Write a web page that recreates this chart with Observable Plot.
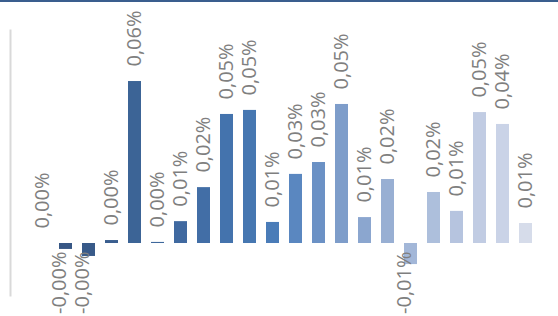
<!DOCTYPE html>
<html>
<head>
<meta charset="utf-8">
<script src="https://cdn.jsdelivr.net/npm/d3@7"></script>
<script src="https://cdn.jsdelivr.net/npm/@observablehq/plot@0.6"></script>
<style>
  html, body { margin: 0; padding: 0; background: #ffffff; }
  #wrap { position: relative; width: 558px; height: 316px; overflow: hidden; }
  #topline { position: absolute; left: 0; top: 0; width: 558px; height: 2px; background: #3a5e8e; }
</style>
</head>
<body>
<div id="wrap"><div id="topline"></div></div>
<script>
// Categories (no visible labels in the reference)
const categories = ["1","2","3","4","5","6","7","8","9","10","11","12","13","14","15","16","17","18","19","20","21","22"];
// Values in percent
const values = [0.0000, -0.0022, -0.0048, 0.0011, 0.0600, 0.0004, 0.0081, 0.0207, 0.0478, 0.0493, 0.0078,
                0.0256, 0.0300, 0.0515, 0.0096, 0.0237, -0.0078, 0.0189, 0.0119, 0.0485, 0.0441, 0.0074];
// Bar colours, dark to light
const colors = ["#365683", "#375785", "#385a89", "#3a5e8f", "#3c6496", "#3e689c", "#4069a0", "#426ea6", "#4473ad",
                "#4677b1", "#4a7cb8", "#5a87c0", "#6b91c5", "#7e9dca", "#8ba6cf", "#98afd3", "#a3b7d8",
                "#adbfdc", "#b6c4df", "#c1cce3", "#cad3e7", "#d6dcea"];

const data = categories.map((c, i) => ({cat: c, value: values[i], color: colors[i]}));
const fmt = v => v.toFixed(2).replace(".", ",") + "%";
const pos = data.filter(d => d.value >= 0);
const neg = data.filter(d => d.value < 0);

const chart = Plot.plot({
  width: 558,
  height: 316,
  marginLeft: 10,
  marginRight: 0,
  marginTop: 30,
  marginBottom: 21,
  style: {fontFamily: "'Open Sans', sans-serif", background: "transparent"},
  x: {domain: categories, paddingInner: 0.435, paddingOuter: 1.13, axis: null},
  y: {domain: [-0.01926, 0.0789], axis: null},
  marks: [
    Plot.frame({anchor: "left", stroke: "#d9d9d9", strokeWidth: 2}),
    Plot.barY(data, {x: "cat", y: "value", fill: "color"}),
    Plot.text(pos, {x: "cat", y: "value", text: d => fmt(d.value), rotate: -90, textAnchor: "start",
      dy: -15, fontSize: 20, fill: "#7f7f7f"}),
    Plot.text(neg, {x: "cat", text: d => fmt(d.value), rotate: -90, textAnchor: "end",
      frameAnchor: "bottom", dy: -44, fontSize: 20, fill: "#7f7f7f"})
  ]
});
document.getElementById("wrap").prepend(chart);
</script>
</body>
</html>
